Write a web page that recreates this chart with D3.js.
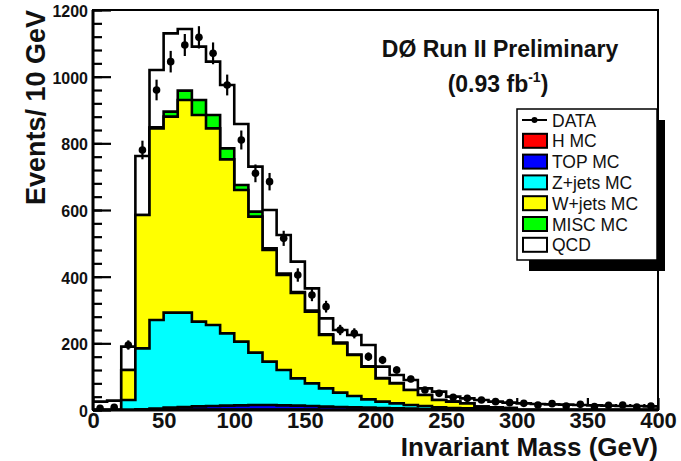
<!DOCTYPE html>
<html>
<head>
<meta charset="utf-8">
<script src="https://cdn.jsdelivr.net/npm/d3@7"></script>
<style>
  body { margin: 0; background: #fff; }
  svg { display: block; }
  text { font-family: "Liberation Sans", Arial, Helvetica, sans-serif; }
</style>
</head>
<body>
<div id="chart"></div>
<script>
'use strict';

// bin low edges (GeV), 10 GeV wide
const binLow = [0, 10, 20, 30, 40, 50, 60, 70, 80, 90,
  100, 110, 120, 130, 140, 150, 160, 170, 180, 190,
  200, 210, 220, 230, 240, 250, 260, 270, 280, 290,
  300, 310, 320, 330, 340, 350, 360, 370, 380, 390];
const binWidth = 10;

// stack components, bottom to top (events / bin)
const hMC = [0, 0, 0, 0, 0, 1, 1, 1, 1, 1, 1, 1, 1, 1, 1, 1, 0, 0, 0, 0,
  0, 0, 0, 0, 0, 0, 0, 0, 0, 0, 0, 0, 0, 0, 0, 0, 0, 0, 0, 0];
const topMC = [0, 0, 0, 2, 4, 6, 8, 10, 11, 12, 13, 14, 14, 13, 12, 11, 10, 9, 8, 7,
  6, 5, 4, 3, 2, 2, 1, 1, 1, 1, 0, 0, 0, 0, 0, 0, 0, 0, 0, 0];
const zjetsMC = [0, 0, 30, 183, 266, 285, 283, 254, 243, 217, 191, 157, 130, 106, 82, 68, 55, 43, 34, 25,
  19, 15, 11, 9, 6, 4, 4, 2, 1, 0, 0, 0, 0, 0, 0, 0, 0, 0, 0, 0];
const wjetsMC = [0, 0, 90, 400, 575, 588, 638, 620, 590, 522, 455, 408, 335, 285, 256, 215, 160, 148, 123, 98,
  70, 60, 45, 33, 22, 19, 15, 7, 6, 5, 0, 0, 0, 0, 0, 0, 0, 0, 0, 0];
const miscMC = [0, 0, 0, 0, 3, 15, 28, 45, 40, 33, 15, 15, 5, 4, 3, 3, 2, 2, 1, 1,
  1, 1, 0, 0, 0, 0, 0, 0, 0, 0, 0, 0, 0, 0, 0, 0, 0, 0, 0, 0];
const qcd = [25, 28, 70, 177, 172, 235, 185, 160, 160, 190, 183, 135, 115, 116, 91, 67, 48, 38, 59, 64,
  34, 24, 30, 20, 25, 15, 15, 20, 17, 16, 20, 18, 17, 16, 15, 14, 13, 12, 12, 11];

// observed events
const dataCounts = [5, 8, 195, 780, 960, 1045, 1095, 1118, 1070, 975, 810, 710, 685, 515, 405, 345, 310, 240, 230, 160,
  150, 120, 93, 60, 50, 38, 35, 30, 25, 22, 20, 15, 19, 12, 17, 10, 14, 15, 9, 12];

const stackNames = ['H MC', 'TOP MC', 'Z+jets MC', 'W+jets MC', 'MISC MC', 'QCD'];
const stackColors = ['#ff0000', '#0000ff', '#00ffff', '#ffff00', '#00ff00', '#ffffff'];
const stackSeries = [hMC, topMC, zjetsMC, wjetsMC, miscMC, qcd];

const xTicks = [0, 50, 100, 150, 200, 250, 300, 350, 400];
const yTicks = [0, 200, 400, 600, 800, 1000, 1200];

const titleText = 'DØ Run II Preliminary';
const xTitle = 'Invariant Mass (GeV)';
const yTitle = 'Events/ 10 GeV';

const W = 681, H = 461;
const frame = { left: 93, right: 658, top: 10, bottom: 410 };

const svg = d3.select('#chart').append('svg')
  .attr('width', W).attr('height', H);

const x = d3.scaleLinear().domain([0, 400]).range([frame.left, frame.right]);
const y = d3.scaleLinear().domain([0, 1200]).range([frame.bottom, frame.top]);

// axes (drawn first, histograms go over them)
const yMajor = d3.axisLeft(y).tickValues(yTicks).tickSize(-18).tickPadding(5).tickFormat(d3.format('d'));
const yMinor = d3.axisLeft(y).tickValues(d3.range(0, 1201, 40)).tickSize(-9).tickFormat('');
const xMajor = d3.axisBottom(x).tickValues(xTicks).tickSize(-12).tickPadding(3).tickFormat(d3.format('d'));
const xMinor = d3.axisBottom(x).tickValues(binLow).tickSize(-6).tickFormat('');

const styleAxis = (g) => {
  g.select('.domain').remove();
  g.selectAll('.tick line').attr('stroke', '#000').attr('stroke-width', 2.2);
};

svg.append('g').attr('transform', `translate(${frame.left},0)`).call(yMinor).call(styleAxis);
const gy = svg.append('g').attr('transform', `translate(${frame.left},0)`).call(yMajor).call(styleAxis);
gy.selectAll('.tick text')
  .attr('font-size', 16).attr('font-weight', 'bold').attr('fill', '#111')
  .attr('dy', '0.4em');
svg.append('g').attr('transform', `translate(0,${frame.bottom})`).call(xMinor).call(styleAxis);
const gx = svg.append('g').attr('transform', `translate(0,${frame.bottom})`).call(xMajor).call(styleAxis);
gx.selectAll('.tick text')
  .attr('font-size', 22).attr('font-weight', 'bold').attr('fill', '#111')
  .attr('dy', '0.68em');

// stacked histograms, drawn from the top of the stack down
const plot = svg.append('g');
plot.append('clipPath').attr('id', 'clip').append('rect')
  .attr('x', frame.left).attr('y', frame.top - 2)
  .attr('width', frame.right - frame.left).attr('height', frame.bottom - frame.top + 2);
const hist = plot.append('g').attr('clip-path', 'url(#clip)');

const cumulative = [];
stackSeries.forEach((s, i) => {
  cumulative.push(s.map((v, j) => v + (i > 0 ? cumulative[i - 1][j] : 0)));
});

const stepLine = d3.line().x(d => x(d[0])).y(d => y(d[1]));
const stepPoints = (vals) => {
  const pts = [[binLow[0], 0]];
  vals.forEach((v, j) => {
    pts.push([binLow[j], v]);
    pts.push([binLow[j] + binWidth, v]);
  });
  pts.push([binLow[binLow.length - 1] + binWidth, 0]);
  return pts;
};

for (let i = stackSeries.length - 1; i >= 0; i--) {
  hist.append('path')
    .attr('d', stepLine(stepPoints(cumulative[i])))
    .attr('fill', stackColors[i])
    .attr('stroke', '#000')
    .attr('stroke-width', 2.6)
    .attr('stroke-linejoin', 'miter');
}

// data points with statistical errors
const dataG = hist.append('g');
const pts = dataG.selectAll('g.pt').data(dataCounts).enter().append('g').attr('class', 'pt');
pts.append('line')
  .attr('x1', (d, j) => x(binLow[j] + binWidth / 2))
  .attr('x2', (d, j) => x(binLow[j] + binWidth / 2))
  .attr('y1', d => y(d + Math.sqrt(d)))
  .attr('y2', d => y(Math.max(0, d - Math.sqrt(d))))
  .attr('stroke', '#000').attr('stroke-width', 2.2);
pts.append('circle')
  .attr('cx', (d, j) => x(binLow[j] + binWidth / 2))
  .attr('cy', d => y(d))
  .attr('r', 3.8)
  .attr('fill', '#000');

// frame
svg.append('rect')
  .attr('x', frame.left).attr('y', frame.top)
  .attr('width', frame.right - frame.left).attr('height', frame.bottom - frame.top)
  .attr('fill', 'none').attr('stroke', '#000').attr('stroke-width', 2);
svg.append('line')
  .attr('x1', frame.left).attr('x2', frame.left)
  .attr('y1', frame.top).attr('y2', frame.bottom)
  .attr('stroke', '#000').attr('stroke-width', 3);
svg.append('line')
  .attr('x1', frame.left).attr('x2', frame.right)
  .attr('y1', frame.bottom).attr('y2', frame.bottom)
  .attr('stroke', '#000').attr('stroke-width', 3);

// titles
svg.append('text')
  .attr('x', frame.right).attr('y', 456)
  .attr('text-anchor', 'end')
  .attr('font-size', 26).attr('font-weight', 'bold').attr('fill', '#111')
  .text(xTitle);
svg.append('text')
  .attr('transform', `translate(45,${frame.top}) rotate(-90)`)
  .attr('text-anchor', 'end')
  .attr('font-size', 27).attr('font-weight', 'bold').attr('fill', '#111')
  .text(yTitle);

svg.append('text')
  .attr('x', 500).attr('y', 57)
  .attr('text-anchor', 'middle')
  .attr('font-size', 23).attr('font-weight', 'bold').attr('fill', '#111')
  .text(titleText);
const lumi = svg.append('text')
  .attr('x', 498).attr('y', 92)
  .attr('text-anchor', 'middle')
  .attr('font-size', 23).attr('font-weight', 'bold').attr('fill', '#111');
lumi.append('tspan').text('(0.93 fb');
lumi.append('tspan').attr('font-size', 14).attr('dy', -10).text('-1');
lumi.append('tspan').attr('dy', 10).text(')');

// legend with ROOT-style shadow
const leg = { x: 517, y: 109, w: 140, h: 151, shadow: 8 };
const lg = svg.append('g');
lg.append('rect')
  .attr('x', leg.x + leg.shadow + 4).attr('y', leg.y + leg.shadow + 3)
  .attr('width', leg.w - 4).attr('height', leg.h)
  .attr('fill', '#000');
lg.append('rect')
  .attr('x', leg.x).attr('y', leg.y)
  .attr('width', leg.w).attr('height', leg.h)
  .attr('fill', '#fff').attr('stroke', '#000').attr('stroke-width', 1.5);

const legendItems = ['DATA'].concat(stackNames);
const rowY = (i) => leg.y + 11 + i * 20.8;
legendItems.forEach((name, i) => {
  const cy = rowY(i);
  if (i === 0) {
    lg.append('line')
      .attr('x1', 522).attr('x2', 547).attr('y1', cy).attr('y2', cy)
      .attr('stroke', '#000').attr('stroke-width', 2);
    lg.append('circle').attr('cx', 534.5).attr('cy', cy).attr('r', 3).attr('fill', '#000');
  } else {
    lg.append('rect')
      .attr('x', 523).attr('y', cy - 7)
      .attr('width', 24).attr('height', 14)
      .attr('fill', stackColors[i - 1])
      .attr('stroke', '#000').attr('stroke-width', 2);
  }
  lg.append('text')
    .attr('x', 552).attr('y', cy + 6.5)
    .attr('font-size', 17.5).attr('fill', '#111')
    .text(name);
});
</script>
</body>
</html>
